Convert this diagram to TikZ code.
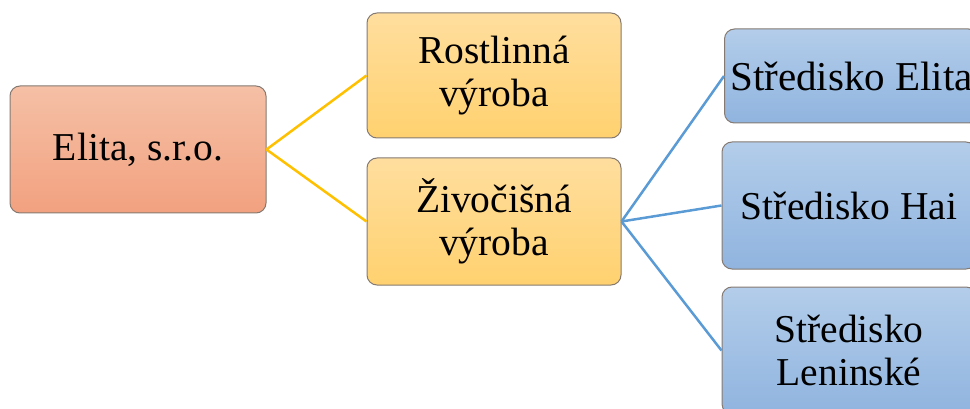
\documentclass[tikz,border=0pt]{standalone}
\usepackage{fontspec}
\setmainfont{Liberation Serif}
\definecolor{orTop}{HTML}{F5C0A6}
\definecolor{orBot}{HTML}{F2A17F}
\definecolor{yeTop}{HTML}{FFDE9E}
\definecolor{yeBot}{HTML}{FFD16F}
\definecolor{blTop}{HTML}{B3CDEA}
\definecolor{blBot}{HTML}{90B4DF}
\definecolor{gold}{HTML}{FFC000}
\definecolor{lblue}{HTML}{5B9BD5}
\definecolor{edge}{HTML}{857A72}
\tikzset{
  box/.style={rectangle, rounded corners=10pt, draw=edge, line width=1pt,
    minimum width=254pt, inner sep=0pt, align=center,
    font=\fontsize{39.5}{43}\selectfont},
  orbox/.style={box, top color=orTop, bottom color=orBot},
  yebox/.style={box, top color=yeTop, bottom color=yeBot},
  blbox/.style={box, top color=blTop, bottom color=blBot},
  goldline/.style={draw=gold, line width=2.5pt},
  blueline/.style={draw=lblue, line width=2.5pt},
}
\begin{document}
\begin{tikzpicture}[x=1pt, y=-1pt]
\useasboundingbox (0,0) rectangle (970,409);
\node[orbox, minimum width=256pt, minimum height=127pt] (el) at (138,149.5) {Elita, s.r.o.};
\node[yebox, minimum height=125pt] (ro) at (494,75.5) {Rostlinná\\výroba};
\node[yebox, minimum height=127pt] (zi) at (494,221.5) {Živočišná\\výroba};
\node[blbox, minimum height=94pt, font=\fontsize{41}{44}\selectfont] (se) at (851.5,76) {Středisko Elita};
\node[blbox, minimum height=127pt] (sh) at (849,205.5) {Středisko Hai};
\node[blbox, minimum height=127pt] (sl) at (849,350.5) {Středisko\\Leninské};
\draw[goldline] (el.east) -- (ro.west);
\draw[goldline] (el.east) -- (zi.west);
\draw[blueline] (zi.east) -- (se.west);
\draw[blueline] (zi.east) -- (sh.west);
\draw[blueline] (zi.east) -- (sl.west);
\end{tikzpicture}
\end{document}
